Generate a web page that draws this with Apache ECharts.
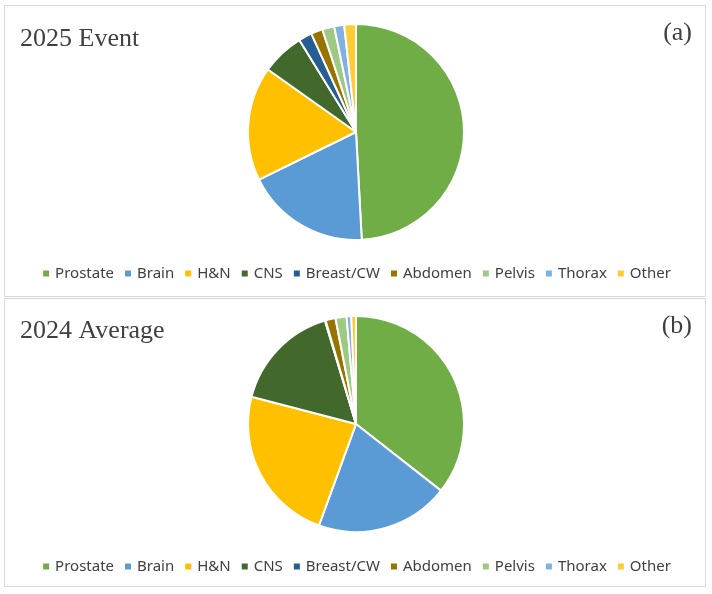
<!DOCTYPE html>
<html>
<head>
<meta charset="utf-8">
<script src="https://cdn.jsdelivr.net/npm/echarts@6/dist/echarts.min.js"></script>
<style>
  html, body { margin: 0; padding: 0; background: #fff; }
  #chart { width: 712px; height: 594px; }
</style>
</head>
<body>
<div id="chart"></div>
<script>
// categories shared by both pies
var categories = ["Prostate", "Brain", "H&N", "CNS", "Breast/CW", "Abdomen", "Pelvis", "Thorax", "Other"];
// share of cases (%)
var event2025 = [49.2, 18.6, 17.1, 6.4, 2.0, 1.75, 1.8, 1.5, 1.75];
var average2024 = [35.6, 20.0, 23.5, 16.3, 0.1, 1.5, 1.65, 0.7, 0.7];
var colors = ["#70ad47", "#5b9bd5", "#ffc000", "#43682b", "#255e91", "#997300", "#9dc982", "#7fb2e0", "#ffcd33"];

function pieData(values) {
    return categories.map(function (name, i) {
        return { name: name, value: values[i] };
    });
}

function pie(values, cy) {
    return {
        type: "pie",
        center: [356, cy],
        radius: 108,
        startAngle: 90,
        clockwise: true,
        avoidLabelOverlap: false,
        label: { show: false },
        labelLine: { show: false },
        emphasis: { disabled: true },
        itemStyle: { borderColor: "#fff", borderWidth: 2 },
        data: pieData(values)
    };
}

function legend(top) {
    return {
        data: categories,
        left: "center",
        top: top,
        icon: "rect",
        itemWidth: 8,
        itemHeight: 8,
        itemGap: 9,
        textStyle: { fontFamily: "Noto Sans", fontSize: 15, color: "#404040" },
        selectedMode: false
    };
}

var serif = "'Liberation Serif', 'Times New Roman', serif";

var chart = echarts.init(document.getElementById("chart"));
chart.setOption({
    animation: false,
    color: colors,
    title: [
        { text: "2025 Event", left: 15, top: 21, textStyle: { fontFamily: serif, fontSize: 26, fontWeight: "normal", color: "#404040" } },
        { text: "2024 Average", left: 15, top: 313, textStyle: { fontFamily: serif, fontSize: 26, fontWeight: "normal", color: "#404040" } }
    ],
    legend: [legend(261), legend(554)],
    graphic: [
        { type: "rect", shape: { x: 4.5, y: 5.5, width: 701, height: 291 }, style: { fill: "none", stroke: "#d9d9d9", lineWidth: 1 }, z: -1 },
        { type: "rect", shape: { x: 4.5, y: 298.5, width: 701, height: 288 }, style: { fill: "none", stroke: "#d9d9d9", lineWidth: 1 }, z: -1 },
        { type: "text", right: 20, top: 20, style: { text: "(a)", font: "26px " + serif, fill: "#404040" } },
        { type: "text", right: 20, top: 313, style: { text: "(b)", font: "26px " + serif, fill: "#404040" } }
    ],
    series: [pie(event2025, 132), pie(average2024, 424)]
});
</script>
</body>
</html>
